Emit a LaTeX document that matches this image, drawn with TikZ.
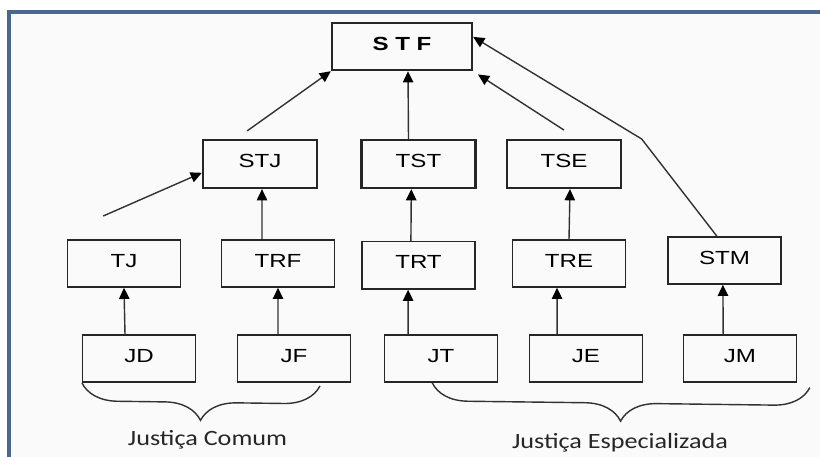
\documentclass[tikz,border=0pt]{standalone}
\usepackage{fontspec}
\setmainfont{Liberation Sans}
\newfontfamily\boxfont[FakeStretch=1.27]{Liberation Sans}
\newfontfamily\bracefont[FakeStretch=1.2]{Carlito}
\usetikzlibrary{positioning, arrows.meta, decorations.pathreplacing}
\definecolor{framecol}{RGB}{74,103,144}
\definecolor{panel}{RGB}{250,250,251}
\definecolor{linecol}{RGB}{50,50,50}
\tikzstyle{court} = [draw=black!85, line width=0.95pt, minimum width=2.82cm, minimum height=1.18cm, inner sep=0pt, text depth=0.15cm, font=\boxfont\fontsize{13.5}{15}\selectfont]
\tikzstyle{upper} = [court, line width=1.6pt, minimum width=2.85cm, minimum height=1.2cm]
\tikzstyle{arr} = [-{Triangle[length=0.28cm, width=0.26cm, color=black]}, draw=linecol, line width=1pt]
\tikzstyle{group} = [decorate, decoration={brace, mirror, amplitude=0.9cm}, draw=linecol, line width=1pt]
\tikzstyle{lbl} = [font=\bracefont\fontsize{15.5}{18}\selectfont, text=black!85]

\begin{document}
\begin{tikzpicture}[x=0.025cm, y=-0.025cm]
        %Frame
        \useasboundingbox (0,0) rectangle (820,457);
        \fill[panel] (9,12) rectangle (820,457);
        \draw[framecol, line width=2.2pt] (9,457) -- (9,12) -- (820,12);
        %Blocks
        \node [upper, minimum width=3.5cm, minimum height=1.18cm] (STF) at (402,46.5) {\textbf{S T F}};
        \node [upper] (STJ) at (260,164) {STJ};
        \node [upper] (TST) at (418.5,164) {TST};
        \node [upper] (TSE) at (564,164) {TSE};
        \node [court] (TJ) at (124,263.5) {TJ};
        \node [court] (TRF) at (278,263.5) {TRF};
        \node [court, below = 1.3cm of TST] (TRT) {TRT};
        \node [court] (TRE) at (569,263.5) {TRE};
        \node [court] (STM) at (724.5,260.5) {STM};
        \node [court] (JD) at (139,358.5) {JD};
        \node [court] (JF) at (294,358.5) {JF};
        \node [court] (JT) at (441,358.5) {JT};
        \node [court] (JE) at (586,358.5) {JE};
        \node [court] (JM) at (740,358.5) {JM};
        %Arrows
        \draw[arr] ([xshift=-0.35cm]JD.north) -- (TJ.south);
        \draw[arr] ([xshift=-0.4cm]JF.north) -- (TRF.south);
        \draw[arr] ([xshift=-0.82cm]JT.north) -- ([xshift=-0.26cm]TRT.south);
        \draw[arr] ([xshift=-0.72cm]JE.north) -- ([xshift=-0.3cm]TRE.south);
        \draw[arr] ([xshift=-0.42cm]JM.north) -- ([xshift=-0.04cm]STM.south);
        \draw[arr] ([shift={(-0.52cm,0.58cm)}]TJ.north) -- ([yshift=-0.22cm]STJ.west);
        \draw[arr] ([xshift=-0.4cm]TRF.north) -- ([xshift=0.05cm]STJ.south);
        \draw[arr] ([xshift=-0.19cm]TRT.north) -- ([xshift=-0.18cm]TST.south);
        \draw[arr] (TRE.north) -- ([xshift=0.15cm]TSE.south);
        \draw[arr] ([shift={(-0.32cm,0.2cm)}]STJ.north) -- (STF.south west);
        \draw[arr] ([xshift=-0.25cm]TST.north) -- ([xshift=0.15cm]STF.south);
        \draw[arr] ([yshift=0.22cm]TSE.north) -- ([shift={(0.12cm,-0.08cm)}]STF.south east);
        \draw[arr] ([xshift=-0.19cm]STM.north) -- ++(-1.88cm,2.43cm) -- ([yshift=0.24cm]STF.east);
        %Groups
        \draw[group] (JD.south west) -- ([shift={(0.65cm,-0.08cm)}]JF.south);
        \draw[group] ([xshift=-0.22cm]JT.south) -- ([shift={(0.32cm,-0.12cm)}]JM.south east);
        \node [lbl] (comum) at (207.5,440) {Justiça Comum};
        \node [lbl] (especial) at (620,443) {Justiça Especializada};
\end{tikzpicture}
\end{document}
